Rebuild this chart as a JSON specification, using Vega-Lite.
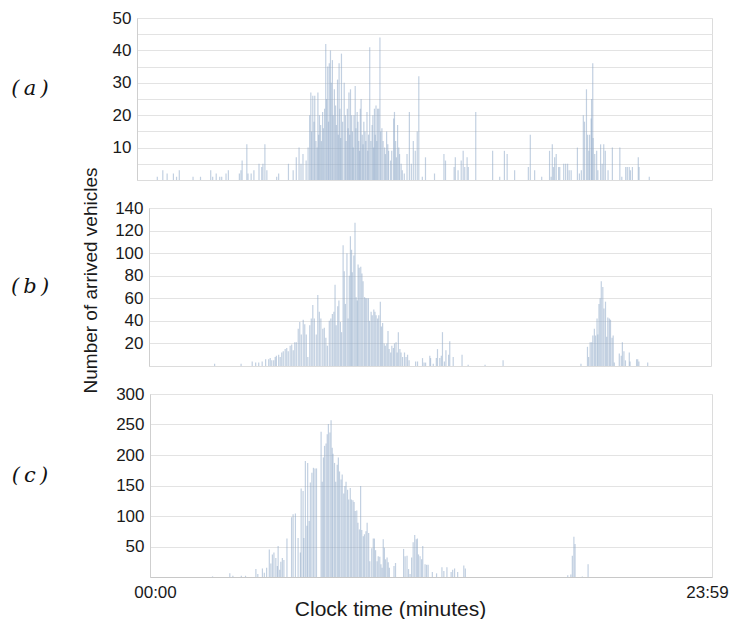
{
  "$schema": "https://vega.github.io/schema/vega-lite/v6.json",
  "padding": {"left": 10, "top": 8, "right": 5, "bottom": 2},
  "spacing": -15,
  "background": "white",
  "config": {
    "view": {"stroke": "#dcdcdc", "strokeWidth": 1},
    "font": "Liberation Sans",
    "axis": {
      "labelFont": "Liberation Sans", "titleFont": "Liberation Sans",
      "labelColor": "#1a1a1a", "titleColor": "#1a1a1a", "titleFontWeight": "normal",
      "gridColor": "#e3e3e3", "gridWidth": 1.2, "domainColor": "#cfcfcf",
      "ticks": false, "labelOverlap": false
    }
  },
  "datasets": {
    "a": [
      {"m":39,"v":1},{"m":53,"v":3},{"m":64,"v":2},{"m":80,"v":2},{"m":88,"v":1},{"m":95,"v":3},{"m":130,"v":1},{"m":149,"v":1},{"m":175,"v":3},{"m":180,"v":1},{"m":189,"v":2},{"m":198,"v":1},{"m":203,"v":1},{"m":214,"v":2},{"m":220,"v":3},{"m":248,"v":2},{"m":252,"v":3},{"m":255,"v":6},{"m":267,"v":11},{"m":270,"v":2},{"m":278,"v":2},{"m":285,"v":3},{"m":298,"v":5},{"m":305,"v":4},{"m":308,"v":5},{"m":313,"v":11},{"m":318,"v":3},{"m":343,"v":1},{"m":348,"v":2},{"m":373,"v":5},{"m":385,"v":3},{"m":393,"v":7},{"m":400,"v":10},{"m":405,"v":5},{"m":410,"v":8},{"m":418,"v":6},{"m":423,"v":10},{"m":427,"v":20},{"m":430,"v":27},{"m":432,"v":15},{"m":435,"v":26},{"m":438,"v":18},{"m":440,"v":26},{"m":443,"v":12},{"m":446,"v":10},{"m":448,"v":27},{"m":450,"v":14},{"m":452,"v":20},{"m":455,"v":17},{"m":457,"v":12},{"m":460,"v":21},{"m":462,"v":16},{"m":465,"v":22},{"m":468,"v":42},{"m":470,"v":25},{"m":473,"v":35},{"m":475,"v":18},{"m":477,"v":36},{"m":480,"v":40},{"m":482,"v":30},{"m":485,"v":37},{"m":487,"v":20},{"m":490,"v":28},{"m":493,"v":23},{"m":495,"v":17},{"m":498,"v":31},{"m":500,"v":14},{"m":502,"v":36},{"m":504,"v":22},{"m":506,"v":13},{"m":508,"v":39},{"m":511,"v":18},{"m":515,"v":30},{"m":518,"v":20},{"m":520,"v":12},{"m":523,"v":22},{"m":525,"v":16},{"m":527,"v":27},{"m":529,"v":14},{"m":531,"v":28},{"m":534,"v":20},{"m":536,"v":15},{"m":538,"v":10},{"m":540,"v":20},{"m":543,"v":29},{"m":545,"v":16},{"m":548,"v":21},{"m":550,"v":18},{"m":552,"v":12},{"m":554,"v":9},{"m":556,"v":22},{"m":558,"v":25},{"m":561,"v":14},{"m":563,"v":11},{"m":565,"v":18},{"m":568,"v":15},{"m":570,"v":12},{"m":573,"v":21},{"m":575,"v":9},{"m":577,"v":14},{"m":580,"v":41},{"m":583,"v":12},{"m":586,"v":17},{"m":588,"v":20},{"m":590,"v":10},{"m":592,"v":22},{"m":594,"v":14},{"m":596,"v":23},{"m":598,"v":12},{"m":600,"v":22},{"m":603,"v":22},{"m":606,"v":44},{"m":608,"v":15},{"m":611,"v":16},{"m":614,"v":12},{"m":618,"v":10},{"m":620,"v":8},{"m":623,"v":15},{"m":626,"v":11},{"m":628,"v":9},{"m":633,"v":6},{"m":636,"v":9},{"m":641,"v":19},{"m":643,"v":21},{"m":646,"v":12},{"m":648,"v":7},{"m":651,"v":17},{"m":654,"v":10},{"m":656,"v":8},{"m":660,"v":5},{"m":663,"v":3},{"m":668,"v":2},{"m":675,"v":8},{"m":681,"v":21},{"m":686,"v":5},{"m":691,"v":12},{"m":696,"v":9},{"m":701,"v":15},{"m":705,"v":32},{"m":714,"v":1},{"m":722,"v":7},{"m":745,"v":2},{"m":769,"v":8},{"m":773,"v":6},{"m":795,"v":4},{"m":798,"v":7},{"m":805,"v":3},{"m":813,"v":6},{"m":818,"v":9},{"m":822,"v":4},{"m":828,"v":7},{"m":831,"v":4},{"m":850,"v":21},{"m":893,"v":9},{"m":911,"v":1},{"m":923,"v":9},{"m":930,"v":8},{"m":949,"v":3},{"m":984,"v":4},{"m":989,"v":14},{"m":1000,"v":3},{"m":1018,"v":1},{"m":1038,"v":9},{"m":1042,"v":1},{"m":1045,"v":11},{"m":1048,"v":4},{"m":1051,"v":7},{"m":1055,"v":8},{"m":1061,"v":4},{"m":1064,"v":4},{"m":1074,"v":5},{"m":1079,"v":5},{"m":1084,"v":5},{"m":1088,"v":3},{"m":1093,"v":3},{"m":1109,"v":10},{"m":1114,"v":2},{"m":1119,"v":3},{"m":1124,"v":20},{"m":1127,"v":18},{"m":1132,"v":28},{"m":1135,"v":14},{"m":1138,"v":9},{"m":1140,"v":14},{"m":1144,"v":19},{"m":1145,"v":25},{"m":1148,"v":36},{"m":1149,"v":13},{"m":1153,"v":8},{"m":1158,"v":9},{"m":1161,"v":3},{"m":1168,"v":11},{"m":1172,"v":5},{"m":1176,"v":11},{"m":1180,"v":9},{"m":1187,"v":3},{"m":1198,"v":10},{"m":1217,"v":10},{"m":1222,"v":1},{"m":1232,"v":4},{"m":1236,"v":4},{"m":1241,"v":4},{"m":1244,"v":3},{"m":1249,"v":4},{"m":1264,"v":7},{"m":1266,"v":4},{"m":1292,"v":1}
    ],
    "b": [
      {"m":158,"v":2},{"m":227,"v":2},{"m":256,"v":4},{"m":265,"v":3},{"m":273,"v":3},{"m":282,"v":4},{"m":291,"v":6},{"m":299,"v":6},{"m":303,"v":7},{"m":307,"v":5},{"m":312,"v":5},{"m":316,"v":8},{"m":319,"v":9},{"m":325,"v":10},{"m":329,"v":8},{"m":333,"v":12},{"m":337,"v":13},{"m":342,"v":15},{"m":346,"v":16},{"m":350,"v":13},{"m":355,"v":18},{"m":359,"v":19},{"m":363,"v":14},{"m":367,"v":21},{"m":371,"v":21},{"m":376,"v":33},{"m":380,"v":39},{"m":384,"v":28},{"m":389,"v":41},{"m":393,"v":37},{"m":397,"v":28},{"m":401,"v":8},{"m":406,"v":36},{"m":410,"v":42},{"m":414,"v":54},{"m":418,"v":42},{"m":423,"v":28},{"m":427,"v":63},{"m":431,"v":48},{"m":435,"v":42},{"m":440,"v":33},{"m":444,"v":34},{"m":448,"v":25},{"m":452,"v":18},{"m":457,"v":40},{"m":461,"v":42},{"m":465,"v":46},{"m":469,"v":48},{"m":472,"v":72},{"m":475,"v":36},{"m":479,"v":53},{"m":482,"v":58},{"m":486,"v":39},{"m":489,"v":30},{"m":493,"v":107},{"m":496,"v":84},{"m":499,"v":55},{"m":503,"v":100},{"m":506,"v":42},{"m":509,"v":80},{"m":512,"v":115},{"m":515,"v":103},{"m":517,"v":83},{"m":521,"v":98},{"m":524,"v":127},{"m":527,"v":61},{"m":530,"v":58},{"m":532,"v":90},{"m":535,"v":87},{"m":539,"v":88},{"m":542,"v":82},{"m":545,"v":75},{"m":549,"v":61},{"m":552,"v":60},{"m":555,"v":60},{"m":559,"v":60},{"m":562,"v":40},{"m":566,"v":48},{"m":569,"v":45},{"m":573,"v":50},{"m":576,"v":48},{"m":579,"v":45},{"m":583,"v":42},{"m":586,"v":45},{"m":590,"v":57},{"m":593,"v":35},{"m":596,"v":38},{"m":600,"v":20},{"m":603,"v":18},{"m":607,"v":20},{"m":610,"v":31},{"m":613,"v":15},{"m":617,"v":12},{"m":620,"v":18},{"m":624,"v":16},{"m":627,"v":20},{"m":631,"v":21},{"m":634,"v":12},{"m":637,"v":30},{"m":641,"v":15},{"m":644,"v":12},{"m":648,"v":8},{"m":653,"v":12},{"m":657,"v":8},{"m":661,"v":10},{"m":665,"v":5},{"m":682,"v":4},{"m":687,"v":4},{"m":700,"v":7},{"m":704,"v":3},{"m":708,"v":3},{"m":719,"v":9},{"m":721,"v":7},{"m":728,"v":2},{"m":736,"v":7},{"m":739,"v":15},{"m":745,"v":7},{"m":749,"v":9},{"m":752,"v":30},{"m":757,"v":4},{"m":761,"v":14},{"m":768,"v":10},{"m":771,"v":22},{"m":780,"v":8},{"m":803,"v":10},{"m":819,"v":1},{"m":863,"v":1},{"m":910,"v":5},{"m":1113,"v":2},{"m":1130,"v":17},{"m":1133,"v":8},{"m":1137,"v":21},{"m":1141,"v":21},{"m":1144,"v":27},{"m":1148,"v":33},{"m":1151,"v":27},{"m":1155,"v":42},{"m":1157,"v":28},{"m":1160,"v":55},{"m":1163,"v":60},{"m":1166,"v":75},{"m":1170,"v":70},{"m":1173,"v":51},{"m":1177,"v":57},{"m":1180,"v":26},{"m":1183,"v":43},{"m":1187,"v":42},{"m":1190,"v":41},{"m":1194,"v":25},{"m":1197,"v":27},{"m":1200,"v":3},{"m":1213,"v":11},{"m":1218,"v":9},{"m":1221,"v":21},{"m":1225,"v":13},{"m":1229,"v":5},{"m":1239,"v":12},{"m":1241,"v":4},{"m":1258,"v":6},{"m":1261,"v":6},{"m":1264,"v":4},{"m":1287,"v":3}
    ],
    "c": [
      {"m":150,"v":1},{"m":195,"v":6},{"m":203,"v":2},{"m":225,"v":2},{"m":236,"v":2},{"m":263,"v":13},{"m":268,"v":5},{"m":280,"v":14},{"m":285,"v":7},{"m":291,"v":15},{"m":298,"v":45},{"m":302,"v":22},{"m":306,"v":37},{"m":310,"v":40},{"m":315,"v":31},{"m":319,"v":18},{"m":321,"v":51},{"m":325,"v":12},{"m":328,"v":25},{"m":332,"v":31},{"m":336,"v":28},{"m":344,"v":63},{"m":356,"v":98},{"m":360,"v":103},{"m":366,"v":104},{"m":373,"v":64},{"m":379,"v":40},{"m":381,"v":145},{"m":386,"v":141},{"m":388,"v":64},{"m":392,"v":190},{"m":396,"v":84},{"m":398,"v":187},{"m":402,"v":92},{"m":405,"v":155},{"m":409,"v":171},{"m":413,"v":179},{"m":417,"v":178},{"m":421,"v":178},{"m":433,"v":238},{"m":436,"v":156},{"m":439,"v":196},{"m":442,"v":215},{"m":446,"v":219},{"m":449,"v":234},{"m":452,"v":251},{"m":456,"v":237},{"m":459,"v":257},{"m":462,"v":212},{"m":464,"v":202},{"m":468,"v":187},{"m":471,"v":156},{"m":475,"v":184},{"m":478,"v":196},{"m":481,"v":173},{"m":485,"v":160},{"m":488,"v":168},{"m":492,"v":137},{"m":495,"v":149},{"m":498,"v":156},{"m":502,"v":143},{"m":505,"v":127},{"m":509,"v":146},{"m":512,"v":127},{"m":516,"v":126},{"m":519,"v":123},{"m":522,"v":108},{"m":526,"v":109},{"m":529,"v":89},{"m":533,"v":78},{"m":536,"v":149},{"m":539,"v":77},{"m":543,"v":67},{"m":546,"v":70},{"m":550,"v":75},{"m":553,"v":89},{"m":557,"v":72},{"m":560,"v":26},{"m":565,"v":47},{"m":569,"v":63},{"m":572,"v":63},{"m":575,"v":44},{"m":579,"v":26},{"m":582,"v":34},{"m":586,"v":33},{"m":589,"v":21},{"m":592,"v":15},{"m":595,"v":62},{"m":598,"v":48},{"m":601,"v":29},{"m":605,"v":32},{"m":608,"v":24},{"m":611,"v":15},{"m":623,"v":18},{"m":627,"v":23},{"m":648,"v":46},{"m":652,"v":34},{"m":657,"v":35},{"m":661,"v":13},{"m":665,"v":5},{"m":669,"v":32},{"m":673,"v":57},{"m":677,"v":69},{"m":681,"v":62},{"m":684,"v":63},{"m":687,"v":37},{"m":691,"v":34},{"m":695,"v":29},{"m":698,"v":51},{"m":704,"v":21},{"m":708,"v":20},{"m":712,"v":20},{"m":723,"v":8},{"m":734,"v":6},{"m":748,"v":16},{"m":753,"v":10},{"m":761,"v":16},{"m":772,"v":8},{"m":776,"v":12},{"m":781,"v":14},{"m":789,"v":8},{"m":805,"v":19},{"m":809,"v":14},{"m":1076,"v":3},{"m":1084,"v":4},{"m":1088,"v":35},{"m":1092,"v":66},{"m":1095,"v":54},{"m":1114,"v":1},{"m":1129,"v":21}
    ],
    "labels": [{"p": "a", "t": "(\u2009a\u2009)"}, {"p": "b", "t": "(\u2009b\u2009)"}, {"p": "c", "t": "(\u2009c\u2009)"}]
  },
  "vconcat": [
    {
      "spacing": 88, "bounds": "flush",
      "hconcat": [
        {
          "width": 38, "height": 162, "view": {"stroke": null},
          "data": {"name": "labels"},
          "transform": [{"filter": "datum.p === 'a'"}],
          "mark": {"type": "text", "font": "DejaVu Serif", "fontStyle": "italic", "fontSize": 21, "color": "#111", "baseline": "bottom"},
          "encoding": {"text": {"field": "t"}}
        },
        {
          "width": 575, "height": 162,
          "data": {"name": "a"},
          "mark": {"type": "bar", "size": 1.2, "color": "#8fa9c9", "opacity": 0.55},
          "encoding": {
            "x": {"field": "m", "type": "quantitative", "scale": {"domain": [0, 1439], "nice": false, "zero": false}, "axis": null},
            "y": {"field": "v", "type": "quantitative", "scale": {"domain": [0, 50], "nice": false}, "axis": {"values": [5,10,15,20,25,30,35,40,45,50], "labelExpr": "datum.value % 10 === 0 ? datum.label : ''", "labelFontSize": 17, "labelPadding": 6, "title": null}}
          }
        }
      ]
    },
    {
      "spacing": 100, "bounds": "flush",
      "hconcat": [
        {
          "width": 38, "height": 158, "view": {"stroke": null},
          "data": {"name": "labels"},
          "transform": [{"filter": "datum.p === 'b'"}],
          "mark": {"type": "text", "font": "DejaVu Serif", "fontStyle": "italic", "fontSize": 21, "color": "#111"},
          "encoding": {"text": {"field": "t"}}
        },
        {
          "width": 562, "height": 158,
          "data": {"name": "b"},
          "mark": {"type": "bar", "size": 1.2, "color": "#8fa9c9", "opacity": 0.55},
          "encoding": {
            "x": {"field": "m", "type": "quantitative", "scale": {"domain": [0, 1439], "nice": false, "zero": false}, "axis": null},
            "y": {"field": "v", "type": "quantitative", "scale": {"domain": [0, 140], "nice": false}, "axis": {"values": [20,40,60,80,100,120,140], "labelFontSize": 17, "labelPadding": 6, "title": "Number of arrived vehicles", "titleFontSize": 19, "titlePadding": 14, "titleY": 72}}
          }
        }
      ]
    },
    {
      "spacing": 101, "bounds": "flush",
      "hconcat": [
        {
          "width": 38, "height": 183, "view": {"stroke": null},
          "data": {"name": "labels"},
          "transform": [{"filter": "datum.p === 'c'"}],
          "mark": {"type": "text", "font": "DejaVu Serif", "fontStyle": "italic", "fontSize": 21, "color": "#111", "baseline": "bottom"},
          "encoding": {"text": {"field": "t"}}
        },
        {
          "width": 562, "height": 183,
          "data": {"name": "c"},
          "mark": {"type": "bar", "size": 1.2, "color": "#8fa9c9", "opacity": 0.55},
          "encoding": {
            "x": {"field": "m", "type": "quantitative", "scale": {"domain": [0, 1439], "nice": false, "zero": false}, "axis": {"values": [0, 1439], "labelExpr": "datum.value == 0 ? '00:00' : '23:59'", "labelFlush": true, "labelFlushOffset": 14, "labelFontSize": 17, "labelPadding": 7, "grid": false, "domainColor": "#c8c8c8", "title": "Clock time (minutes)", "titleFontSize": 21, "titlePadding": -2, "titleX": 240}},
            "y": {"field": "v", "type": "quantitative", "scale": {"domain": [0, 300], "nice": false}, "axis": {"values": [50,100,150,200,250,300], "labelFontSize": 17, "labelPadding": 6, "title": null}}
          }
        }
      ]
    }
  ]
}
